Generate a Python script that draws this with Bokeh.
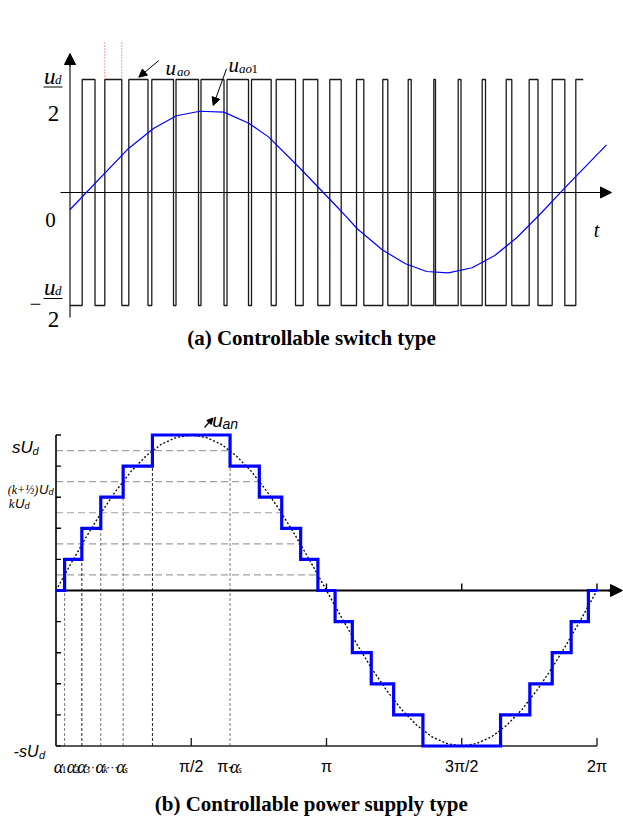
import math
from bokeh.plotting import figure
from bokeh.layouts import column
from bokeh.models import Label, Arrow, NormalHead
from bokeh.embed import file_html
from bokeh.resources import INLINE

PI = math.pi

# ---------------- (a) Controllable switch type : data (time in ms, level in u_d/2) ----------------
pulse_rise_ms = [-0.067, 0.875, 1.875, 2.833, 3.842, 4.883, 5.967, 6.988, 8.017, 9.142, 10.25,
                 11.363, 12.458, 13.517, 14.583, 15.6, 16.6, 17.6, 18.558, 19.517, 20.5]
pulse_fall_ms = [0.467, 1.583, 2.675, 3.738, 4.779, 5.842, 6.863, 7.808, 8.821, 9.75, 10.725,
                 11.667, 12.667, 13.642, 14.654, 15.717, 16.738, 17.833, 18.925, 20.042, 20.808]
level_high = 1.0
level_low = -1.0
u_ao1_t_ms = [-0.583, 1.875, 2.917, 3.863, 4.833, 5.833, 6.875, 7.708, 9.029, 10.696, 11.392,
              12.433, 13.404, 14.279, 15.183, 16.183, 17.125, 18.058, 19.029, 20.071, 21.779]
u_ao1_val = [-0.153, 0.392, 0.569, 0.679, 0.719, 0.711, 0.613, 0.490, 0.210, -0.159, -0.321,
             -0.507, -0.631, -0.699, -0.711, -0.666, -0.558, -0.396, -0.188, 0.047, 0.422]

# ---------------- (b) Controllable power supply type : data (angle in rad, level in U_d) ----------
alpha_rad = [0.10, 0.30, 0.52, 0.78, 1.12]
n_levels = 5
ref_deg = [0, 10, 20, 30, 40, 50, 60, 70, 80, 90, 100, 110, 120, 130, 140, 150, 160, 170, 180,
           190, 200, 210, 220, 230, 240, 250, 260, 270, 280, 290, 300, 310, 320, 330, 340, 350, 360]
ref_val = [0, 0.87, 1.71, 2.5, 3.21, 3.83, 4.33, 4.70, 4.92, 5.0, 4.92, 4.70, 4.33, 3.83, 3.21, 2.5,
           1.71, 0.87, 0, -0.87, -1.71, -2.5, -3.21, -3.83, -4.33, -4.70, -4.92, -5.0, -4.92, -4.70,
           -4.33, -3.83, -3.21, -2.5, -1.71, -0.87, 0]
x_tick_pos = [PI / 2, PI, 1.5 * PI, 2 * PI]
x_tick_lbl = ["π/2", "π", "3π/2", "2π"]
vdash_colors = ["#777777", "#222222", "#777777", "#777777", "#222222", "#777777"]

SERIF = "Liberation Serif"
SANS = "Liberation Sans"

# page-pixel helpers (layout only)
def XA(px): return (px - 83.3) / 24.0
def YA(py): return (192.0 - py) / 113.0
def XB(px): return (px - 55.5) / 86.1
def YB(py): return (590.0 - py) / 31.1


def txt(p, X, Y, px, py, s, size, font=SERIF, style="normal", align="left",
        baseline="alphabetic", color="black"):
    p.add_layout(Label(x=X(px), y=Y(py), text=s, text_font=font, text_font_size=f"{size}px",
                       text_font_style=style, text_align=align, text_baseline=baseline,
                       text_color=color))


def bare(p):
    p.xgrid.visible = False
    p.ygrid.visible = False
    p.outline_line_color = None
    p.background_fill_color = "white"
    p.border_fill_color = "white"


TOP_H = 358
W = 623
H = 817

# ============================ figure (a) ============================
pa = figure(width=W, height=TOP_H, output_backend="svg", toolbar_location=None,
            x_range=(XA(0), XA(W)), y_range=(YA(TOP_H), YA(0)), min_border=0,
            x_axis_location=None, y_axis_location=None)
bare(pa)

t_axis = XA(69.5)
# axes
pa.segment(x0=[XA(60)], y0=[0], x1=[XA(600)], y1=[0], line_color="black", line_width=1.1)
pa.segment(x0=[t_axis], y0=[YA(317)], x1=[t_axis], y1=[YA(64)], line_color="black", line_width=1.1)
pa.add_layout(Arrow(end=NormalHead(size=11, fill_color="black", line_color="black"),
                    x_start=XA(598), y_start=0, x_end=XA(611), y_end=0, line_width=1.1))
pa.add_layout(Arrow(end=NormalHead(size=11, fill_color="black", line_color="black"),
                    x_start=t_axis, y_start=YA(66), x_end=t_axis, y_end=YA(53), line_width=1.1))

# PWM waveform
wx = [t_axis]
wy = [level_low]
for i, (r, f) in enumerate(zip(pulse_rise_ms, pulse_fall_ms)):
    wx += [r, r, f]
    wy += [level_low, level_high, level_high]
    if i < len(pulse_rise_ms) - 1:
        wx.append(f)
        wy.append(level_low)
pa.line(wx, wy, line_color="#1a1a1a", line_width=1.3)

# red dotted markers on the second pulse
pa.segment(x0=[pulse_rise_ms[1], pulse_fall_ms[1]], y0=[level_high] * 2,
           x1=[pulse_rise_ms[1], pulse_fall_ms[1]], y1=[YA(40)] * 2,
           line_color=["#ff3030", "#d04040"], line_width=1, line_dash="1 2")

# fundamental
pa.line(u_ao1_t_ms, u_ao1_val, line_color="#0000ff", line_width=1.2)

# labels
txt(pa, XA, YA, 43.5, 76, "u", 23, style="italic")
txt(pa, XA, YA, 54.5, 79, "d", 13, style="italic")
pa.segment(x0=[XA(43)], y0=[YA(86.5)], x1=[XA(62)], y1=[YA(86.5)], line_color="black", line_width=1)
txt(pa, XA, YA, 53, 113, "2", 23, align="center")
txt(pa, XA, YA, 50, 219, "0", 21, align="center")
txt(pa, XA, YA, 35, 303, "−", 21, align="center")
txt(pa, XA, YA, 43.5, 287, "u", 23, style="italic")
txt(pa, XA, YA, 54.5, 290, "d", 13, style="italic")
pa.segment(x0=[XA(43)], y0=[YA(298)], x1=[XA(62)], y1=[YA(298)], line_color="black", line_width=1)
txt(pa, XA, YA, 53, 319, "2", 23, align="center")
txt(pa, XA, YA, 596, 229, "t", 20, style="italic", align="center")

txt(pa, XA, YA, 165, 67, "u", 21, style="italic")
txt(pa, XA, YA, 176.5, 71, "ao", 13, style="italic")
txt(pa, XA, YA, 228, 64, "u", 21, style="italic")
txt(pa, XA, YA, 238.5, 68, "ao", 13, style="italic")
txt(pa, XA, YA, 251, 68, "1", 13)
pa.add_layout(Arrow(end=NormalHead(size=8, fill_color="black", line_color="black"),
                    x_start=XA(158.3), y_start=YA(60), x_end=XA(138.3), y_end=YA(76.7), line_width=1))
pa.add_layout(Arrow(end=NormalHead(size=8, fill_color="black", line_color="black"),
                    x_start=XA(226), y_start=YA(68.3), x_end=XA(212.7), y_end=YA(105), line_width=1))

txt(pa, XA, YA, 311, 337, "(a) Controllable switch type", 21, style="bold", align="center",
    baseline="middle")

# ============================ figure (b) ============================
pb = figure(width=W, height=H - TOP_H, output_backend="svg", toolbar_location=None,
            x_range=(XB(0), XB(W)), y_range=(YB(H), YB(TOP_H)), min_border=0,
            x_axis_location=None, y_axis_location=None)
bare(pb)

# horizontal dashed guide lines at half levels
pb.segment(x0=[0] * len(alpha_rad), y0=[k + 0.5 for k in range(len(alpha_rad))],
           x1=[PI - a for a in alpha_rad], y1=[k + 0.5 for k in range(len(alpha_rad))],
           line_color="#a0a0a0", line_width=1.2, line_dash="7 4")
# vertical dashed lines at switching angles
vx = alpha_rad + [PI - alpha_rad[-1]]
vtop = [k + 1 for k in range(len(alpha_rad))] + [n_levels]
pb.segment(x0=vx, y0=[-n_levels] * len(vx), x1=vx, y1=vtop, line_color=vdash_colors,
           line_width=1, line_dash="3 2")

# axes (under the staircase)
pb.segment(x0=[0], y0=[-n_levels], x1=[0], y1=[n_levels], line_color="black", line_width=1.6)
lv = list(range(-n_levels, n_levels + 1))
pb.segment(x0=[0] * len(lv), y0=lv, x1=[5 / 86.1] * len(lv), y1=lv, line_color="black", line_width=1.4)
pb.segment(x0=[0], y0=[-n_levels], x1=[2 * PI], y1=[-n_levels], line_color="#222222", line_width=1.6)
pb.segment(x0=x_tick_pos, y0=[-n_levels] * 4, x1=x_tick_pos, y1=[-n_levels + 8 / 31.1] * 4,
           line_color="#222222", line_width=1.4)
pb.segment(x0=[0], y0=[0], x1=[XB(610)], y1=[0], line_color="black", line_width=2.2)
pb.segment(x0=x_tick_pos[1:], y0=[0] * 3, x1=x_tick_pos[1:], y1=[7 / 31.1] * 3,
           line_color="black", line_width=1.4)
pb.add_layout(Arrow(end=NormalHead(size=12, fill_color="black", line_color="black"),
                    x_start=XB(608), y_start=0, x_end=XB(622), y_end=0, line_width=2))

# reference sine (dotted)
pb.line([math.radians(d) for d in ref_deg], ref_val, line_color="black", line_width=1.3,
        line_dash="2 2")

# staircase u_an
sx, sy = [0.0], [0]
for k, a in enumerate(alpha_rad):
    sx += [a, a]
    sy += [k, k + 1]
for k in reversed(range(len(alpha_rad))):
    a = alpha_rad[k]
    sx += [PI - a, PI - a]
    sy += [k + 1, k]
for k, a in enumerate(alpha_rad):
    sx += [PI + a, PI + a]
    sy += [-k, -(k + 1)]
for k in reversed(range(len(alpha_rad))):
    a = alpha_rad[k]
    sx += [2 * PI - a, 2 * PI - a]
    sy += [-(k + 1), -k]
sx.append(2 * PI)
sy.append(0)
pb.line(sx, sy, line_color="#0000ff", line_width=3.2, line_join="miter")

# y labels
txt(pb, XB, YB, 11.5, 447, "sU", 17, font=SANS, style="italic")
txt(pb, XB, YB, 32, 450, "d", 11, font=SANS, style="italic")
txt(pb, XB, YB, 7.3, 489, "(k+½)", 12, font=SERIF, style="italic")
txt(pb, XB, YB, 38.5, 489, "U", 13, font=SANS, style="italic")
txt(pb, XB, YB, 48, 491, "d", 9, font=SANS, style="italic")
txt(pb, XB, YB, 8.3, 503, "k", 13, font=SERIF, style="italic")
txt(pb, XB, YB, 14.5, 503, "U", 13, font=SANS, style="italic")
txt(pb, XB, YB, 24, 505, "d", 9, font=SANS, style="italic")
txt(pb, XB, YB, 38, 751, "-sU", 16, font=SANS, style="italic", align="right")
txt(pb, XB, YB, 38.5, 754, "d", 11, font=SANS, style="italic")

# x labels
alpha_parts = [(53.3, "1"), (66.2, "2"), (76.7, "3"), (95.0, "k"), (115.7, "s")]
for px, sub in alpha_parts:
    txt(pb, XB, YB, px, 766, "α", 18, style="italic")
    txt(pb, XB, YB, px + 7.8, 769, sub, 10, style="normal" if sub.isdigit() else "italic")
txt(pb, XB, YB, 86.5, 766, "···", 12, font=SANS)
txt(pb, XB, YB, 105.8, 766, "···", 12, font=SANS)
for pos, lbl in zip(x_tick_pos, x_tick_lbl):
    txt(pb, XB, YB, 55.5 + pos * 86.1, 766, lbl, 16, font=SANS, align="center")
txt(pb, XB, YB, 216.7, 766, "π-", 16, font=SANS)
txt(pb, XB, YB, 229.5, 766, "α", 18, style="italic")
txt(pb, XB, YB, 237.5, 769, "s", 10, style="italic")

# u_an label
txt(pb, XB, YB, 211.7, 420, "u", 19, font=SANS, style="italic")
txt(pb, XB, YB, 222, 423, "an", 14, font=SANS, style="italic")
pb.add_layout(Arrow(end=NormalHead(size=6, fill_color="black", line_color="black"),
                    x_start=XB(204), y_start=YB(427), x_end=XB(212.5), y_end=YB(417.5), line_width=1.2))

txt(pb, XB, YB, 311, 803, "(b) Controllable power supply type", 21, style="bold", align="center",
    baseline="middle")

layout = column(pa, pb, spacing=0)
open("out.html", "w").write(file_html(layout, INLINE))
